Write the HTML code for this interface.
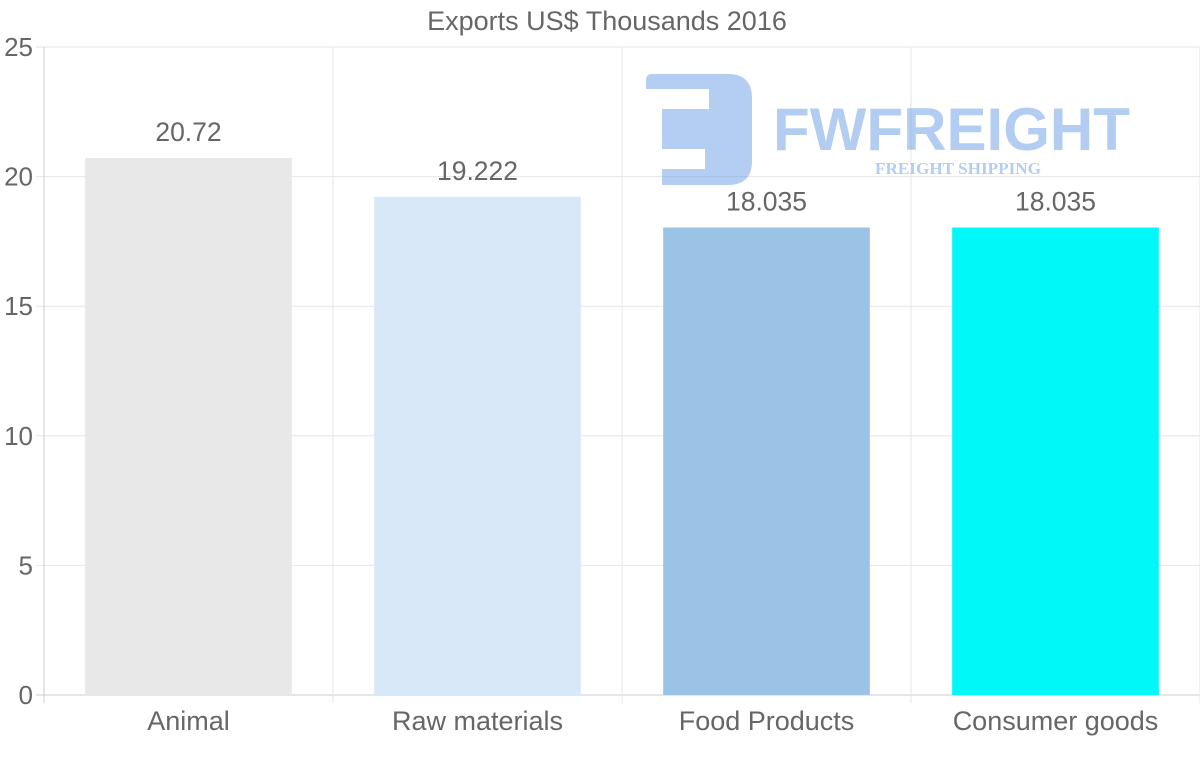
<!DOCTYPE html>
<html><head><meta charset="utf-8"><style>
body{margin:0;background:#fff}
svg{display:block;font-family:"Liberation Sans",sans-serif}
</style></head><body>
<svg id="chart" width="1200" height="763" viewBox="0 0 1200 763">
<text x="607" y="30" text-anchor="middle" font-size="27" fill="#666">Exports US$ Thousands 2016</text>
<g id="grid"></g>
<g id="bars"></g>
<g opacity="0.5">
<path d="M652 74 H728 Q752 74 752 98 V161 Q752 185 728 185 H662 V169 H705 V149 H662 V109 H709 V89 H646 V80 Q646 74 652 74 Z" fill="#6a9be6"/>
<text x="773" y="150" font-size="60" font-weight="bold" fill="#6a9be6" textLength="357" lengthAdjust="spacingAndGlyphs">FWFREIGHT</text>
<text x="958" y="174" text-anchor="middle" font-family="Liberation Serif,serif" font-weight="bold" font-size="17" fill="#6a9be6" textLength="166" lengthAdjust="spacingAndGlyphs">FREIGHT SHIPPING</text>
</g>
</svg>
<script>
const categories=["Animal","Raw materials","Food Products","Consumer goods"];
const values=[20.72,19.222,18.035,18.035];
const labels=["20.72","19.222","18.035","18.035"];
const yTicks=[0,5,10,15,20,25];
const colors=["#e8e8e8","#d8e8f8","#9bc3e6","#00f8f8"];
const NS="http://www.w3.org/2000/svg";
const L=44,R=1200,T=47,B=695,yMax=25;
const y=v=>B-(v/yMax)*(B-T);
const bw=(R-L)/categories.length;
const x=i=>L+i*bw;
function mk(t,a,p){const e=document.createElementNS(NS,t);for(const k in a)e.setAttribute(k,a[k]);p.appendChild(e);return e;}
const g=document.getElementById('grid'),b=document.getElementById('bars');
yTicks.forEach(v=>{
 const l=mk('line',{x1:36,x2:R,y1:y(v),y2:y(v),stroke:v===0?'#ccc':'#e6e6e6'},g);
 
 
 const t=mk('text',{x:33,y:y(v)+9,'text-anchor':'end','font-size':26,fill:'#666'},g);
 t.textContent=v;
 
 
});
for(let i=0;i<=categories.length;i++){
 const l=mk('line',{x1:x(i),x2:x(i),y1:T,y2:703,stroke:i===0?'#ccc':'#e6e6e6'},g);
 
 
}
categories.forEach((c,i)=>{
 const cx=x(i)+bw/2,w=bw*0.715;
 const r=mk('rect',{x:cx-w/2,y:y(values[i]),width:w,height:B-y(values[i]),fill:colors[i]},b);
 
 
 const v=mk('text',{x:cx,y:y(values[i])-17,'text-anchor':'middle','font-size':26.5,fill:'#666'},b);
 v.textContent=labels[i];
 
 
 const t=mk('text',{x:cx,y:730,'text-anchor':'middle','font-size':27,fill:'#666'},b);
 t.textContent=c;
 
 
});
</script>
</body></html>
